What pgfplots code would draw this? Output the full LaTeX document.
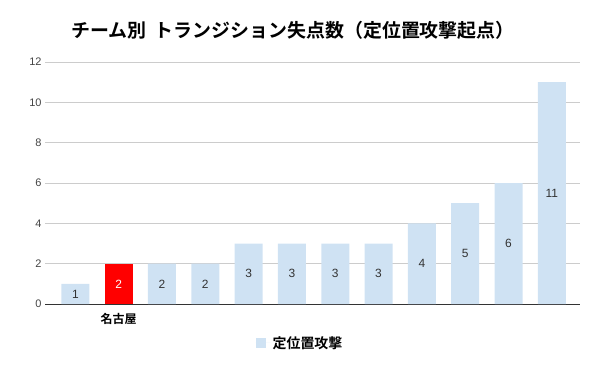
\documentclass[border=0pt]{standalone}
\usepackage{pgfplots}
\usepackage{pgfplotstable}
\pgfplotsset{compat=1.18}
\usepackage{fontspec}
\setmainfont{Liberation Sans}
\newfontfamily\jp{Noto Sans CJK JP}[BoldFont={Noto Sans CJK JP Bold}]
\definecolor{barblue}{HTML}{CFE2F3}
\definecolor{gridc}{HTML}{CCCCCC}
\definecolor{txt}{HTML}{444444}
\definecolor{lbl}{HTML}{333333}
\pgfplotstableread{
x y
0 1
2 2
3 2
4 3
5 3
6 3
7 3
8 4
9 5
10 6
11 11
}\blue
\pgfplotstableread{
x y
1 2
}\red
\begin{document}
\begin{tikzpicture}[x=1bp,y=1bp]
\path[use as bounding box] (0,0) rectangle (600,371);
\node[font=\jp\bfseries\fontsize{19}{22}\selectfont] at (293,341) {チーム別\hspace{0.45em}トランジション失点数（定位置攻撃起点）};
\begin{axis}[
  at={(45bp,67bp)}, anchor=south west,
  scale only axis, width=535bp, height=242bp,
  xmin=-0.7, xmax=11.65, ymin=0, ymax=12,
  ytick={0,2,...,12}, xtick={1}, xticklabels={名古屋},
  axis lines*=left,
  y axis line style={draw=none},
  x axis line style={draw=lbl, line width=0.8bp},
  major tick length=0pt,
  ymajorgrids, grid style={gridc, line width=0.8bp},
  /pgf/number format/assume math mode=true,
  yticklabel style={font=\fontsize{11}{12}\selectfont, text=txt},
  xticklabel style={font=\jp\bfseries\fontsize{12}{14}\selectfont, text=black, yshift=-5.5bp},
  legend style={at={(0.4766,-0.161)}, anchor=center, draw=none, fill=none,
    font=\jp\bfseries\fontsize{14}{16}\selectfont, legend cell align=left},
  legend image code/.code={\fill[barblue] (0bp,-5bp) rectangle (10bp,5bp); \path (0bp,0bp) -- (15bp,0bp);},
]
\addplot[ybar, bar width=28bp, bar shift=0pt, fill=barblue, draw=none] table[x=x,y=y]{\blue};
\addlegendentry{定位置攻撃}
\addplot[ybar, bar width=28bp, bar shift=0pt, fill=red, draw=none, forget plot] table[x=x,y=y]{\red};
\addplot[draw=none, forget plot, nodes near coords, point meta=explicit symbolic,
  every node near coord/.append style={anchor=center, text=lbl, font=\fontsize{12}{13}\selectfont}]
  table[x=x, y expr=\thisrow{y}/2, meta=y]{\blue};
\addplot[draw=none, forget plot, nodes near coords, point meta=explicit symbolic,
  every node near coord/.append style={anchor=center, text=white, font=\fontsize{12}{13}\selectfont}]
  table[x=x, y expr=\thisrow{y}/2, meta=y]{\red};
\end{axis}
\end{tikzpicture}
\end{document}
